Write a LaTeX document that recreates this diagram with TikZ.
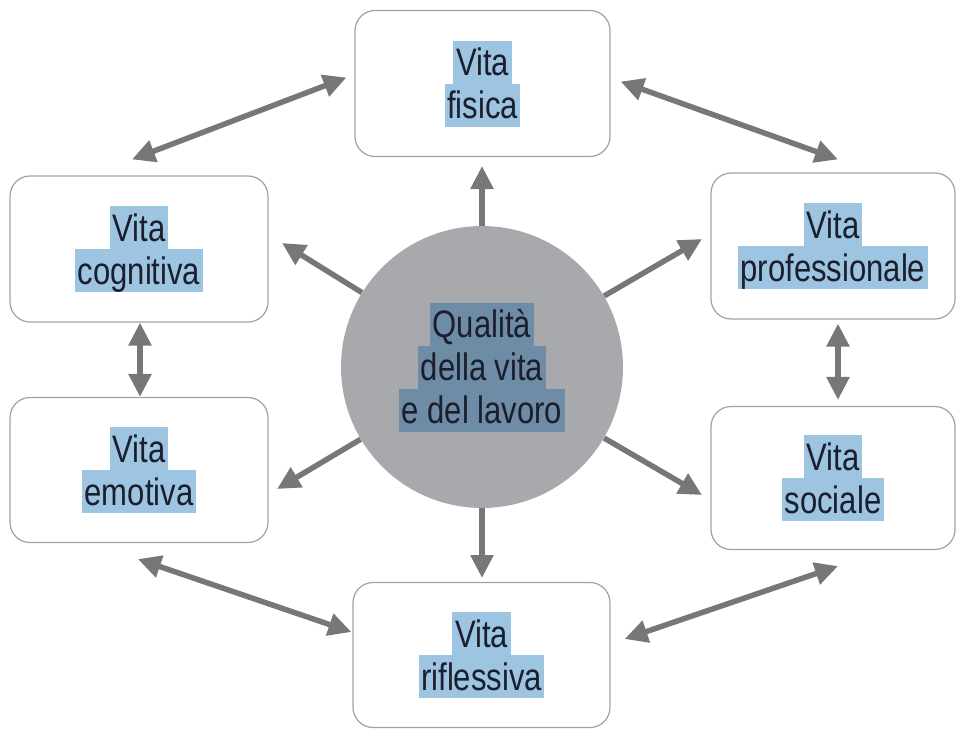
\documentclass[tikz,border=0pt]{standalone}
\usepackage{fontspec}
\setmainfont{Liberation Sans}[FakeStretch=0.81]
\usetikzlibrary{calc,arrows.meta}

\definecolor{boxline}{HTML}{A3A3A3}
\definecolor{arrowgray}{HTML}{777777}
\definecolor{discgray}{HTML}{A8A9AC}
\definecolor{lightblue}{HTML}{9DC4E1}
\definecolor{steelblue}{HTML}{6E8CA5}
\definecolor{inkblue}{HTML}{1B1E2C}

% one highlighted line of text
\newcommand{\hlline}[2]{{\setlength{\fboxsep}{0pt}\colorbox{#1}{\rule[-0.16cm]{0pt}{0.86cm}\hspace{1.5pt}#2\hspace{1.5pt}}}}

\begin{document}
\begin{tikzpicture}[x=0.02cm, y=-0.02cm,
    lifebox/.style={draw=boxline, line width=0.7pt, fill=white, rounded corners=0.4cm,
      minimum width=5.1cm, minimum height=2.92cm, align=center, text=inkblue,
      font={\fontsize{21.8pt}{0.86cm}\selectfont\lineskiplimit=-2pt}},
    link/.style={draw=arrowgray, line width=0.11cm, -{Triangle[length=0.46cm,width=0.44cm]}},
    duallink/.style={link, {Triangle[length=0.46cm,width=0.44cm]}-{Triangle[length=0.46cm,width=0.44cm]}}]
    \useasboundingbox (0,0) rectangle (957,728);

    \node[circle, fill=discgray, minimum size=5.64cm, inner sep=0pt, align=center, text=inkblue,
      font={\fontsize{21.8pt}{0.86cm}\selectfont\lineskiplimit=-2pt}] (qual) at (482,367)
      {\hlline{steelblue}{Qualità}\\\hlline{steelblue}{della vita}\\\hlline{steelblue}{e del lavoro}};

    \node[lifebox, minimum width=5.1cm] (fis) at (482.5,83.5) {\hlline{lightblue}{Vita}\\\hlline{lightblue}{fisica}};
    \node[lifebox, minimum width=5.16cm] (cog) at (139,249) {\hlline{lightblue}{Vita}\\\hlline{lightblue}{cognitiva}};
    \node[lifebox, minimum width=5.16cm, minimum height=2.9cm] (emo) at (139,470) {\hlline{lightblue}{Vita}\\\hlline{lightblue}{emotiva}};
    \node[lifebox, minimum width=4.88cm] (prof) at (833,246) {\hlline{lightblue}{Vita}\\\hlline{lightblue}{professionale}};
    \node[lifebox, minimum width=4.88cm, minimum height=2.86cm] (soc) at (833,478) {\hlline{lightblue}{Vita}\\\hlline{lightblue}{sociale}};
    \node[lifebox, minimum width=5.14cm, minimum height=2.9cm] (rif) at (481.5,655) {\hlline{lightblue}{Vita}\\\hlline{lightblue}{riflessiva}};

    % from the centre outwards
    \foreach \dx/\dy in {0/-201, 0/211, -200/-124, 220/-128, -205/122, 220/128}
      \draw[link] (qual) -- ($(qual)+(\dx,\dy)$);

    % between neighbours
    \draw[duallink] ($(cog.north)+(-7,-16)$) -- ($(fis.west)+(-8,-6)$);
    \draw[duallink] ($(fis.east)+(10,-2)$) -- ($(prof.north)+(5,-13)$);
    \draw[duallink] ($(cog.south)+(1,0)$) -- ($(emo.north)+(1,0)$);
    \draw[duallink] ($(prof.south)+(5,4)$) -- ($(soc.north)+(5,-6)$);
    \draw[duallink] ($(emo.south)+(-1,16)$) -- ($(rif.west)+(-1,-23)$);
    \draw[duallink] ($(rif.east)+(14,-16)$) -- ($(soc.south)+(5,16)$);
\end{tikzpicture}
\end{document}
